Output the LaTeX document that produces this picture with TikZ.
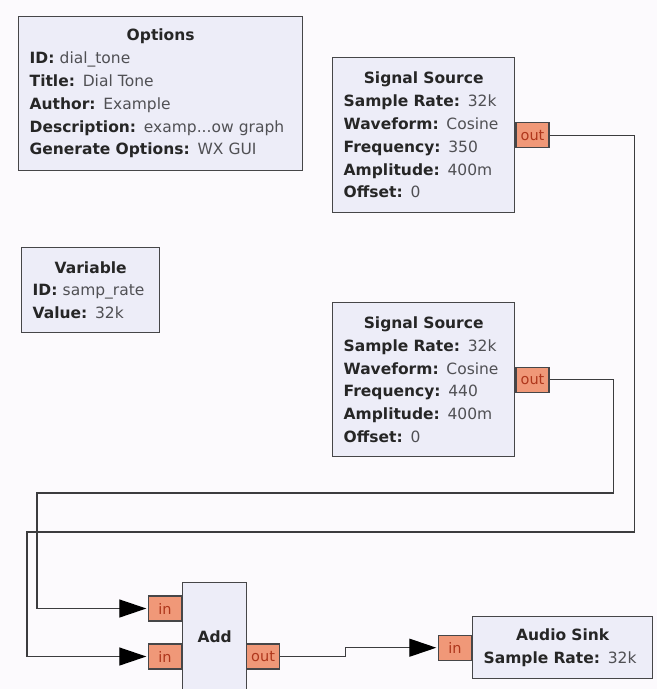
\documentclass[tikz,border=0pt]{standalone}
\usepackage{fontspec}
\setmainfont{DejaVu Sans}
\usetikzlibrary{arrows.meta, positioning}

\definecolor{paperbg}{RGB}{252,250,253}
\definecolor{blockfill}{RGB}{237,237,248}
\definecolor{blockline}{RGB}{70,70,72}
\definecolor{portfill}{RGB}{240,152,120}
\definecolor{porttext}{RGB}{175,55,28}
\definecolor{wirecol}{RGB}{60,60,62}
\definecolor{valgray}{RGB}{80,80,84}

% block title and one parameter line
\newcommand{\blktitle}[1]{\makebox[\linewidth]{\bfseries #1}}
\newcommand{\prm}[2]{\textbf{#1:} \textcolor{valgray}{#2}}

\begin{document}
\begin{tikzpicture}[x=1pt, y=-1pt, >={Triangle[length=27pt, width=18pt, black]},
    font=\fontsize{15.5}{22.8}\selectfont, text=black!85,
    block/.style={draw=blockline, line width=1.4pt, fill=blockfill,
        anchor=north west, inner xsep=11pt, inner ysep=0pt, align=left},
    port/.style={draw=blockline, line width=1.2pt, fill=portfill, text=porttext,
        minimum width=33pt, minimum height=25pt, inner sep=0pt,
        font=\fontsize{14.5}{16}\selectfont},
    wire/.style={draw=wirecol, line width=1.3pt, shorten >=1.5pt}]
    \useasboundingbox (0,0) rectangle (657,689);
    \clip (0,0) rectangle (657,689);
    \fill[paperbg] (0,0) rectangle (657,689);

    % blocks
    \node[block, minimum width=284pt, minimum height=154pt, text width=262pt] (opts) at (18,16)
        {\blktitle{Options}\\ \prm{ID}{dial\_tone}\\ \prm{Title}{Dial Tone}\\
         \prm{Author}{Example}\\ \prm{Description}{examp...ow graph}\\
         \prm{Generate Options}{WX GUI}};
    \node[block, minimum width=138pt, minimum height=85pt, text width=116pt] (var) at (21,247)
        {\blktitle{Variable}\\ \prm{ID}{samp\_rate}\\ \prm{Value}{32k}};
    \node[block, minimum width=182pt, minimum height=155pt, text width=160pt] (ssa) at (332,57)
        {\blktitle{Signal Source}\\ \prm{Sample Rate}{32k}\\ \prm{Waveform}{Cosine}\\
         \prm{Frequency}{350}\\ \prm{Amplitude}{400m}\\ \prm{Offset}{0}};
    \node[block, minimum width=182pt, minimum height=154pt, text width=160pt] (ssb) at (332,302)
        {\blktitle{Signal Source}\\ \prm{Sample Rate}{32k}\\ \prm{Waveform}{Cosine}\\
         \prm{Frequency}{440}\\ \prm{Amplitude}{400m}\\ \prm{Offset}{0}};
    \node[block, minimum width=64pt, minimum height=109pt, align=center, inner xsep=0pt] (add) at (182,582)
        {\textbf{Add}};
    \node[block, minimum width=180pt, minimum height=62pt, text width=158pt] (sink) at (472,616)
        {\blktitle{Audio Sink}\\ \prm{Sample Rate}{32k}};

    % ports
    \node[port, right=0pt of ssa] (ssaout) {out};
    \node[port, right=0pt of ssb] (ssbout) {out};
    \node[port, anchor=east] (addin1) at (182,608.5) {in};
    \node[port, anchor=east] (addin2) at (182,656.5) {in};
    \node[port, anchor=west] (addout) at (246,656.5) {out};
    \node[port, left=0pt of sink] (sinkin) {in};

    % connections
    \draw[wire, ->] (ssaout.east) -- ++(85,0) |- (27,532) |- (addin2.west);
    \draw[wire, ->] (ssbout.east) -- ++(64,0) |- (37,493) |- (addin1.west);
    \draw[wire, ->] (addout.east) -- ++(65,0) |- (sinkin.west);
\end{tikzpicture}
\end{document}
